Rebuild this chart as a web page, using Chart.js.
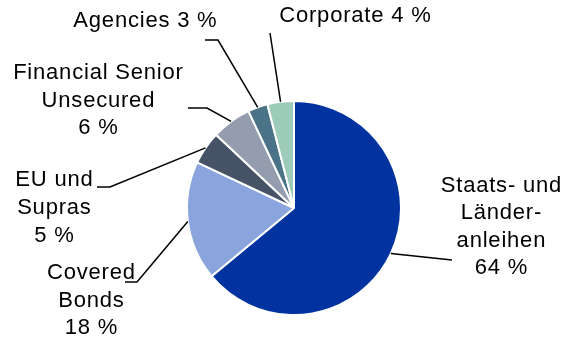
<!DOCTYPE html>
<html>
<head>
<meta charset="utf-8">
<script src="https://cdn.jsdelivr.net/npm/chart.js@4/dist/chart.umd.min.js"></script>
<style>
html,body{margin:0;padding:0;background:#fff;}
#wrap{position:relative;width:567px;height:337px;}
</style>
</head>
<body>
<div id="wrap"><canvas id="c" width="567" height="337"></canvas></div>
<script>
// Data
const categories = [
  ['Staats- und', 'Länder-', 'anleihen'],
  ['Covered', 'Bonds'],
  ['EU und', 'Supras'],
  ['Financial Senior', 'Unsecured'],
  ['Agencies'],
  ['Corporate']
];
const shares = [64, 18, 5, 6, 3, 4];
const colors = ['#0033a0', '#8aa5de', '#465366', '#939dae', '#4a7387', '#9dcbb9'];

// Label layout (positions only)
const labelLayout = [
  {cx: 501, y: 186, lh: 27.3, inline: false, leader: [[452, 260]]},
  {cx: 91,  y: 273, lh: 27.5, inline: false, leader: [[137, 282], [125, 282]]},
  {cx: 54,  y: 180, lh: 28,   inline: false, leader: [[110, 187], [97, 187]]},
  {cx: 98,  y: 73,  lh: 27.5, inline: false, leader: [[207, 108], [188, 108]]},
  {cx: 145, y: 21,  lh: 27,   inline: true,  leader: [[218, 40], [205, 40]]},
  {cx: 355, y: 16,  lh: 27,   inline: true,  leader: [[270, 33]]}
];

const labelPlugin = {
  id: 'pieLabels',
  afterDatasetsDraw(chart) {
    const ctx = chart.ctx;
    const meta = chart.getDatasetMeta(0);
    ctx.save();
    meta.data.forEach((arc, i) => {
      const p = arc.getProps(['x', 'y', 'startAngle', 'endAngle', 'outerRadius'], true);
      const mid = (p.startAngle + p.endAngle) / 2;
      const sx = p.x + Math.cos(mid) * p.outerRadius;
      const sy = p.y + Math.sin(mid) * p.outerRadius;
      const L = labelLayout[i];
      ctx.strokeStyle = '#000';
      ctx.lineWidth = 1.5;
      ctx.beginPath();
      ctx.moveTo(sx, sy);
      L.leader.forEach(pt => ctx.lineTo(pt[0], pt[1]));
      ctx.stroke();

      const value = chart.data.datasets[0].data[i] + ' %';
      let lines = categories[i].slice();
      if (L.inline) lines[lines.length - 1] += ' ' + value; else lines.push(value);
      ctx.fillStyle = '#000';
      ctx.font = '22px "Liberation Sans", Arial, sans-serif';
      ctx.textAlign = 'left';
      ctx.textBaseline = 'middle';
      const ls = 0.8;
      if ('letterSpacing' in ctx) ctx.letterSpacing = ls + 'px';
      lines.forEach((t, k) => {
        const w = ctx.measureText(t).width - ls;
        ctx.fillText(t, L.cx - w / 2, L.y + k * L.lh);
      });
    });
    ctx.restore();
  }
};

new Chart(document.getElementById('c'), {
  type: 'pie',
  data: {
    labels: categories.map(c => c.join(' ')),
    datasets: [{
      data: shares,
      backgroundColor: colors,
      borderColor: '#ffffff',
      borderWidth: 2
    }]
  },
  options: {
    responsive: false,
    animation: false,
    layout: {padding: {left: 186, right: 165, top: 100, bottom: 21}},
    plugins: {legend: {display: false}, tooltip: {enabled: false}}
  },
  plugins: [labelPlugin]
});
</script>
</body>
</html>
